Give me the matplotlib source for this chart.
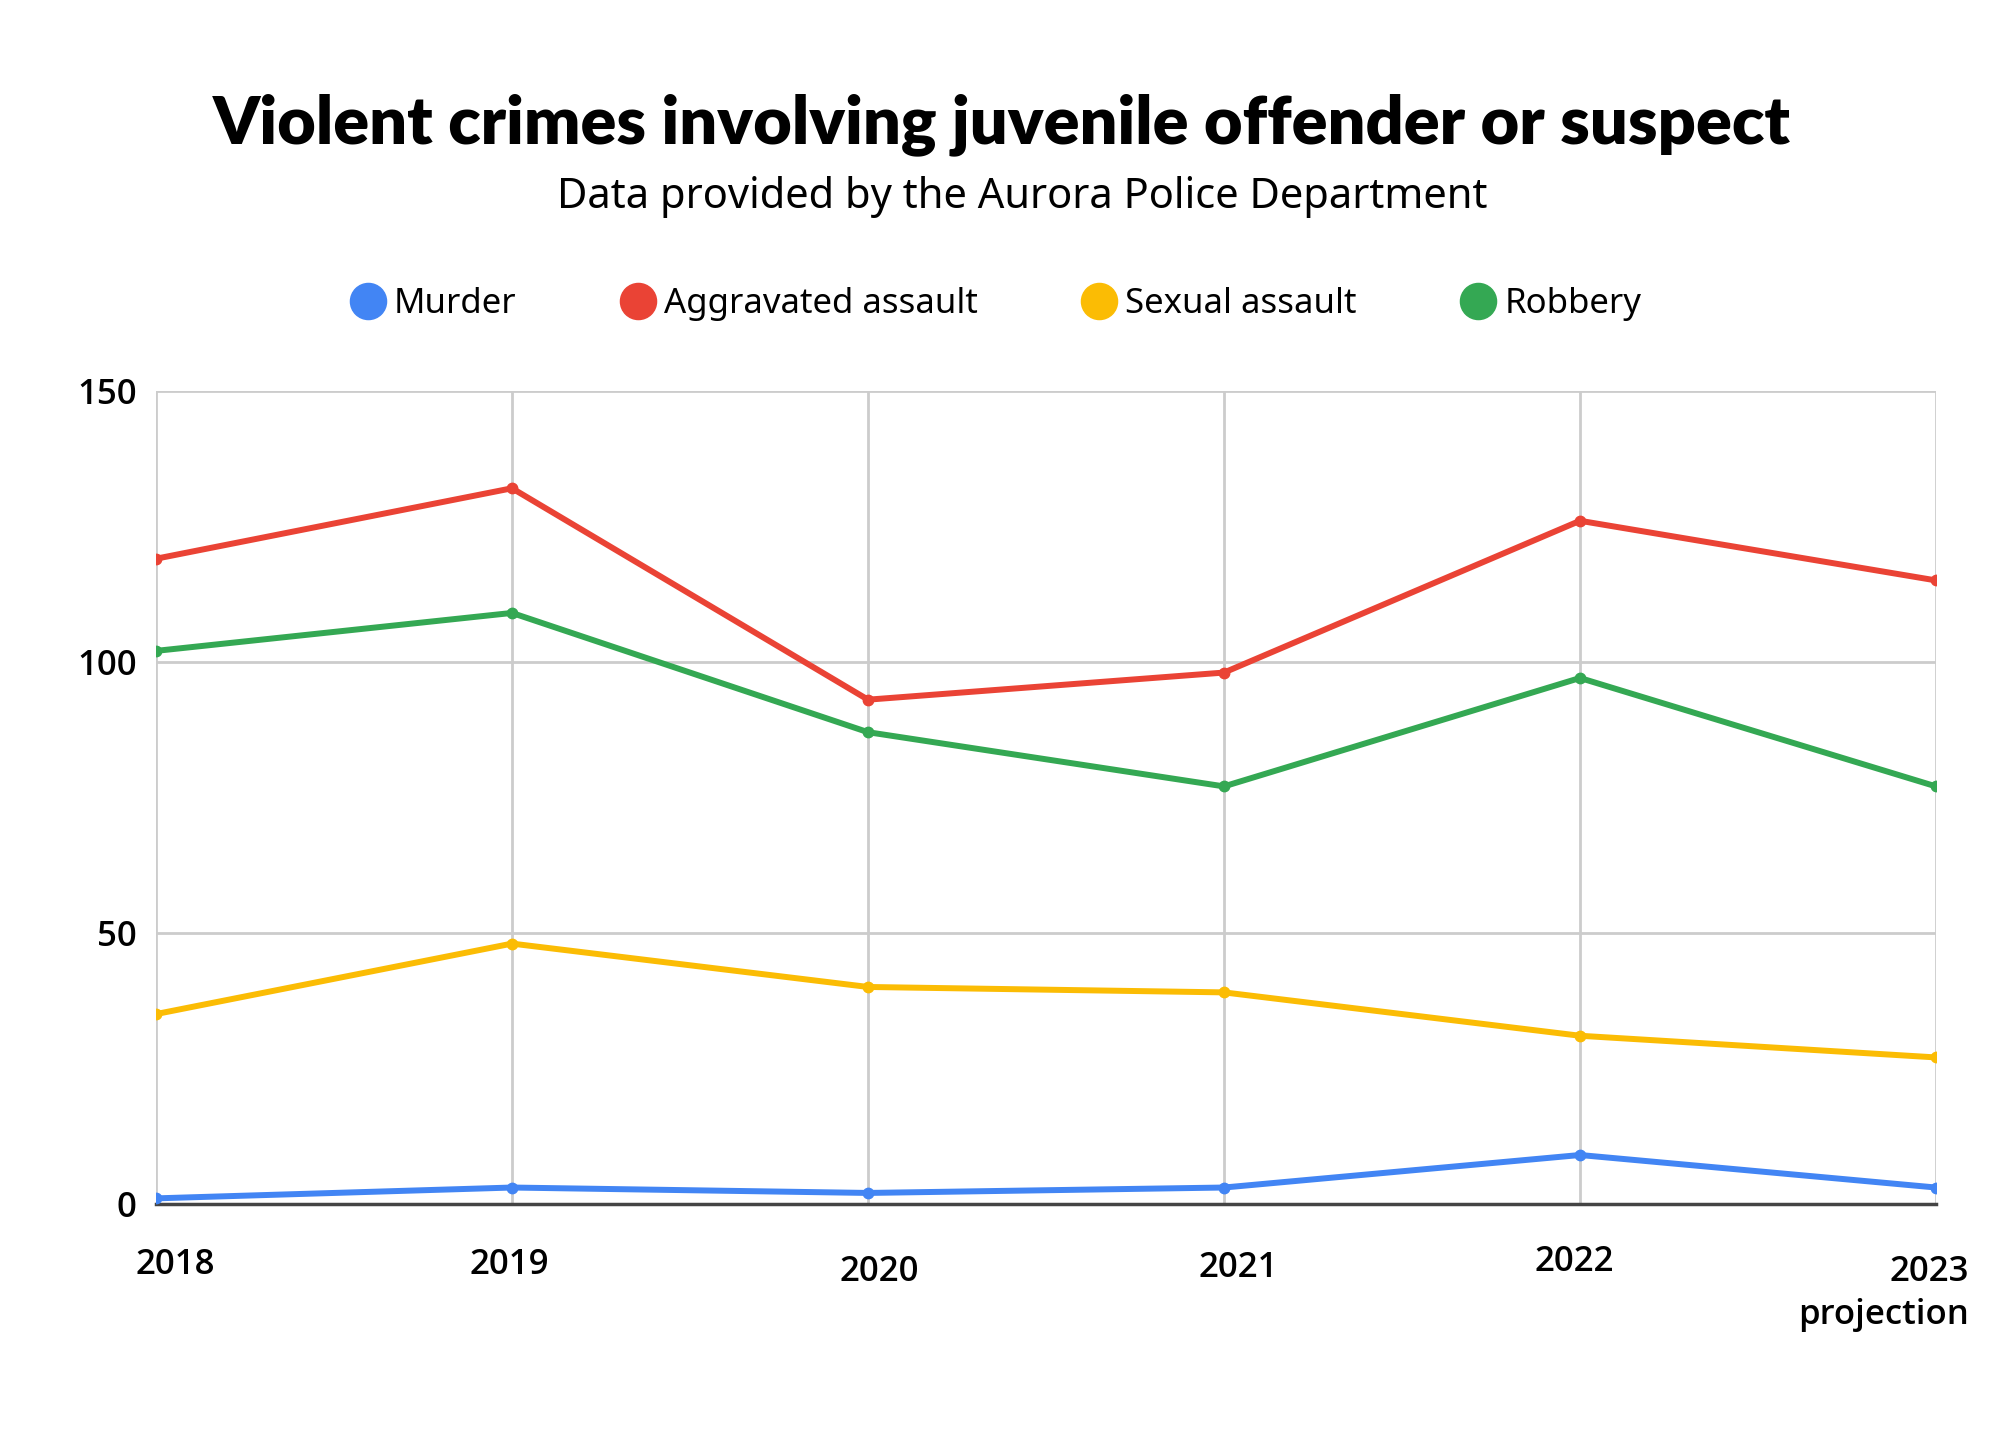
import numpy as np
import matplotlib
matplotlib.use("Agg")
import matplotlib.pyplot as plt
import matplotlib.transforms as mtransforms

plt.rcParams['font.family'] = ['Open Sans', 'DejaVu Sans']

years = ["2018", "2019", "2020", "2021", "2022", "2023\nprojection"]
murder = [1, 3, 2, 3, 9, 3]
aggravated = [119, 132, 93, 98, 126, 115]
sexual = [35, 48, 40, 39, 31, 27]
robbery = [102, 109, 87, 77, 97, 77]

series = [
    ("Murder", murder, "#4285F4"),
    ("Aggravated assault", aggravated, "#EA4335"),
    ("Sexual assault", sexual, "#FBBC04"),
    ("Robbery", robbery, "#34A853"),
]

fig = plt.figure(figsize=(20, 14.29), dpi=100)
ax = fig.add_axes([0.078, 0.1576, 0.890, 0.569])

x = np.arange(len(years))
for name, vals, col in series:
    ax.plot(x, vals, color=col, lw=4.3, marker='o', ms=7.5, label=name,
            solid_joinstyle='round', zorder=3)

ax.set_xlim(0, len(years) - 1)
ax.set_ylim(0, 150)
ax.set_yticks([0, 50, 100, 150])
ax.set_xticks(x)
ax.set_xticklabels(years, fontsize=25, fontweight='semibold', linespacing=1.35)
ax.tick_params(axis='y', labelsize=25, length=0, pad=14)
ax.tick_params(axis='x', length=0, pad=32)
for lab in ax.get_yticklabels():
    lab.set_fontweight('semibold')

ax.grid(True, color='#cccccc', lw=2)
ax.set_axisbelow(True)
for s in ['top', 'right', 'left']:
    ax.spines[s].set_visible(False)
ax.spines['bottom'].set_color('#444444')
ax.spines['bottom'].set_linewidth(2.5)
ax.spines['bottom'].set_zorder(2)

# small per-label nudges to follow the reference
labs = ax.get_xticklabels()
nudges = [(14, 0), (-2, 0), (8, -5), (10, -2), (-4, 2), (0, -5)]
for lab, (dx, dy) in zip(labs, nudges):
    lab.set_transform(lab.get_transform() +
                      mtransforms.ScaledTranslation(dx / 72, dy / 72, fig.dpi_scale_trans))
labs[-1].set_horizontalalignment('right')
labs[-1].set_multialignment('right')
labs[-1].set_transform(labs[-1].get_transform() +
                       mtransforms.ScaledTranslation(24 / 72, 0, fig.dpi_scale_trans))

fig.text(0.501, 0.913, "Violent crimes involving juvenile offender or suspect",
         ha='center', va='center', fontsize=48, fontweight='heavy',
         family=['Lato', 'DejaVu Sans'])
fig.text(0.511, 0.862, "Data provided by the Aurora Police Department",
         ha='center', va='center', fontsize=30, family=['Noto Sans', 'DejaVu Sans'])

handles = [plt.Line2D([], [], ls='none', marker='o', ms=26, color=c) for _, _, c in series]
fig.legend(handles, [n for n, _, _ in series], loc='center', bbox_to_anchor=(0.497, 0.787),
           ncol=4, frameon=False, prop={'family': ['Noto Sans', 'DejaVu Sans'], 'size': 25},
           handletextpad=0.15, columnspacing=2.9, handlelength=1.2)

fig.savefig("out.png", dpi=100, facecolor='white')
